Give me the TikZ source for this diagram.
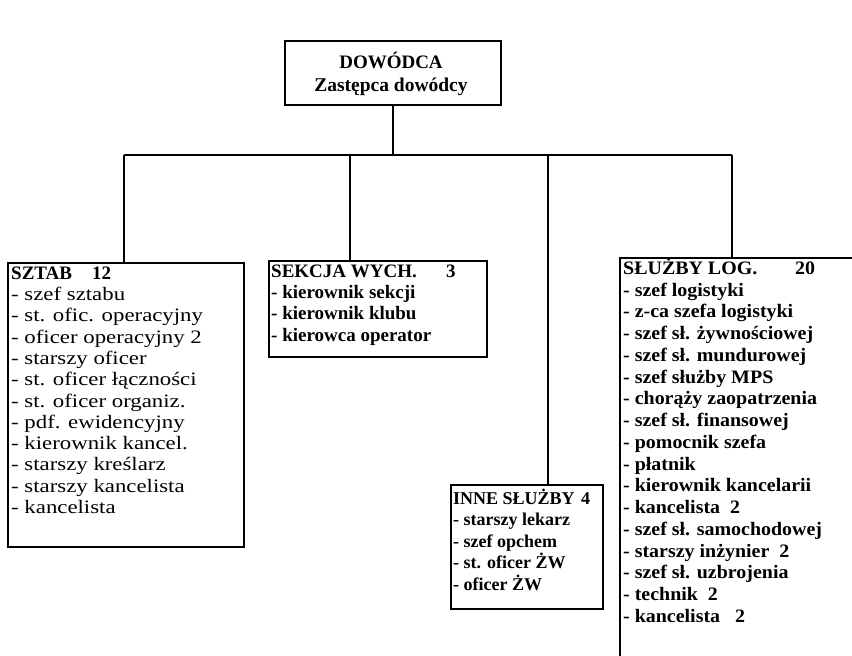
\documentclass[tikz,border=0pt]{standalone}
\usepackage{fontspec}
\setmainfont{Liberation Serif}
\newfontfamily\widefont[FakeStretch=1.2]{Liberation Serif}
\newfontfamily\boldwide[FakeStretch=1.05]{Liberation Serif}
\begin{document}
\begin{tikzpicture}[x=1pt,y=-1pt,
  box/.style={draw, line width=1.8pt, anchor=north west, inner sep=0pt},
  openbox/.style={anchor=north west, inner sep=0pt},
  lst/.style={anchor=north west, align=left, inner sep=0pt},
  ttl/.style={inner sep=0pt, font=\bfseries\fontsize{19}{20}\selectfont},
  wire/.style={line width=1.8pt}]
\useasboundingbox (0,0) rectangle (852,656);
% top box
\node[box, minimum width=216pt, minimum height=64pt] (top) at (284,40) {};
\node[ttl] (t1) at (391,60) {DOWÓDCA};
\node[ttl, font=\bfseries\fontsize{19.5}{20}\selectfont] (t2) at (391,87) {Zastępca dowódcy};
% boxes
\node[box, minimum width=236pt, minimum height=284pt] (sztab) at (7,262) {};
\node[box, minimum width=218pt, minimum height=96pt] (sekcja) at (268,260) {};
\node[box, minimum width=152pt, minimum height=124pt] (inne) at (450,484) {};
\node[openbox, minimum width=232pt, minimum height=398pt] (sluzby) at (620,258) {};
\draw[wire] (sluzby.south west) -- (sluzby.north west) -- (sluzby.north east);
% texts
\node[lst, font=\widefont\fontsize{19}{21.3}\selectfont] (sztabtxt) at (11,263) {\rule{0pt}{16pt}{\rmfamily\bfseries\makebox[81pt][l]{SZTAB}12}\\
- szef sztabu\\
- st. ofic. operacyjny\\
- oficer operacyjny 2\\
- starszy oficer\\
- st. oficer łączności\\
- st. oficer organiz.\\
- pdf. ewidencyjny\\
- kierownik kancel.\\
- starszy kreślarz\\
- starszy kancelista\\
- kancelista};
\node[lst, font=\bfseries\fontsize{19}{21.3}\selectfont] (sekcjatxt) at (271,261) {\rule{0pt}{16pt}\makebox[175pt][l]{SEKCJA WYCH.}3\\
- kierownik sekcji\\
- kierownik klubu\\
- kierowca operator};
\node[lst, font=\bfseries\fontsize{18}{21.5}\selectfont] (innetxt) at (453,488) {\rule{0pt}{16pt}\makebox[128pt][l]{INNE SŁUŻBY}4\\
- starszy lekarz\\
- szef opchem\\
- st. oficer ŻW\\
- oficer ŻW};
\node[lst, font=\boldwide\bfseries\fontsize{19}{21.75}\selectfont] (sluzbytxt) at (623,258) {\rule{0pt}{16pt}\makebox[172pt][l]{SŁUŻBY LOG.}20\\
- szef logistyki\\
- z-ca szefa logistyki\\
- szef sł. żywnościowej\\
- szef sł. mundurowej\\
- szef służby MPS\\
- chorąży zaopatrzenia\\
- szef sł. finansowej\\
- pomocnik szefa\\
- płatnik\\
- kierownik kancelarii\\
- kancelista\ \ 2\\
- szef sł. samochodowej\\
- starszy inżynier\ \ 2\\
- szef sł. uzbrojenia\\
- technik\ \ 2\\
- kancelista\ \ \ 2};
% connectors
\coordinate (bus1) at (124,155);
\coordinate (bus2) at (732,155);
\coordinate (d2) at (350,155);
\coordinate (d3) at (548,155);
\draw[wire] (bus1) -- (bus2);
\draw[wire] (top.south) -- (top.south |- bus1);
\draw[wire] (bus1) -- (bus1 |- sztab.north);
\draw[wire] (d2) -- (d2 |- sekcja.north);
\draw[wire] (d3) -- (d3 |- inne.north);
\draw[wire] (bus2) -- (bus2 |- sluzby.north);
\end{tikzpicture}
\end{document}
